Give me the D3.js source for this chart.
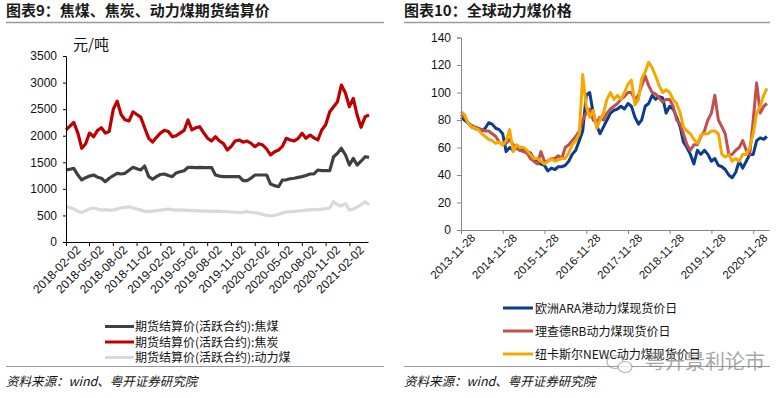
<!DOCTYPE html>
<html>
<head>
<meta charset="utf-8">
<script src="https://d3js.org/d3.v7.min.js"></script>
<style>
  body { margin: 0; background: #fff; }
  svg { display: block; }
  text { font-family: "Liberation Sans", Arial, "Noto Sans CJK SC", sans-serif; }
  .cn { font-family: "Noto Sans CJK SC", sans-serif; }
</style>
</head>
<body>
<svg id="chart" width="783" height="398"></svg>
<script>
// ---- left chart data: semi-monthly settlement prices (yuan/ton) ----
const leftStart = new Date(2018, 1, 2);
const leftTicks = ["2018-02-02","2018-05-02","2018-08-02","2018-11-02","2019-02-02","2019-05-02",
  "2019-08-02","2019-11-02","2020-02-02","2020-05-02","2020-08-02","2020-11-02","2021-02-02"];
const cokingCoal = [1355,1370,1385,1260,1167,1210,1240,1261,1220,1198,1135,1200,1250,1292,1280,1292,
  1350,1405,1380,1355,1430,1229,1180,1230,1270,1280,1250,1229,1300,1323,1342,1405,1405,1400,1405,1400,
  1400,1400,1261,1240,1229,1229,1229,1229,1229,1154,1154,1200,1261,1261,1261,1261,1091,1060,1041,1167,
  1170,1190,1200,1217,1230,1250,1280,1280,1355,1342,1342,1342,1605,1669,1763,1637,1449,1574,1449,1520,
  1605,1593];
const coke = [2108,2180,2250,2050,1763,1850,2050,1980,2100,2150,2050,2080,2500,2650,2400,2300,2280,2450,
  2400,2350,2150,1950,1880,1970,2050,2100,2080,1980,2000,2050,2100,2296,2108,2150,2170,2050,1951,1900,
  1982,1900,1850,1731,1800,1900,1919,1880,1900,1860,1794,1850,1825,1750,1637,1700,1731,1800,1951,1920,
  1900,1950,2045,1951,2013,1960,1920,2108,2202,2452,2546,2640,2954,2798,2546,2703,2390,2158,2358,2390];
const thermalFut = [665,650,620,580,552,590,620,640,620,600,610,600,600,620,640,650,665,640,620,600,580,
  570,580,590,600,610,620,610,600,605,600,595,590,590,585,580,580,575,580,575,570,570,565,560,555,560,
  570,560,550,540,520,500,490,500,520,545,565,570,575,585,590,600,605,609,610,620,627,640,759,700,680,
  721,600,620,660,700,759,700];
const leftNames = ["期货结算价(活跃合约):焦煤", "期货结算价(活跃合约):焦炭", "期货结算价(活跃合约):动力煤"];

// ---- right chart data: monthly spot prices (USD/t) ----
const rightStart = new Date(2013, 10, 28);
const rightTicks = ["2013-11-28","2014-11-28","2015-11-28","2016-11-28","2017-11-28","2018-11-28",
  "2019-11-28","2020-11-28"];
const ara = [82,80,78,75,74,73,72,74,78,77,74,73,70,57,60,58,60,58,58,57,56,52,50,48,47,43,45,44,46,46,
  47,50,55,58,65,72,98,100,85,76,70,75,80,85,87,88,90,88,92,90,82,77,80,90,92,98,95,97,96,85,90,88,82,
  75,64,60,55,48,58,55,58,55,50,52,47,46,44,40,38,42,50,45,50,55,55,65,67,66,68];
const rb = [84,82,78,76,75,74,73,72,72,70,68,64,62,63,66,62,60,58,57,56,52,50,48,57,50,50,52,52,54,52,
  60,62,65,68,72,80,85,88,80,78,82,80,85,88,90,92,95,97,100,100,95,98,105,112,105,100,99,96,93,95,95,
  90,80,77,70,62,58,62,62,68,72,80,85,98,80,75,70,55,55,58,60,65,58,55,80,107,85,90,92];
const newc = [86,84,78,75,74,73,70,68,66,65,63,64,62,65,73,57,62,60,60,58,55,52,52,50,48,50,52,50,51,52,
  52,56,62,65,70,113,90,82,87,74,80,85,95,100,95,98,95,100,106,109,91,95,110,115,122,118,112,105,100,
  102,100,95,92,85,75,72,70,66,63,69,70,70,72,72,70,55,53,55,50,52,50,55,55,60,70,85,90,98,103];
const rightNames = ["欧洲ARA港动力煤现货价日", "理查德RB动力煤现货价日", "纽卡斯尔NEWC动力煤现货价日"];

const parse = d3.timeParse("%Y-%m-%d");
const svg = d3.select("#chart");

// titles & rules
function header(x0, x1, title) {
  svg.append("text").attr("class", "cn").attr("x", x0).attr("y", 16)
    .attr("font-size", 15).attr("font-weight", "bold").attr("fill", "#1a1a1a").text(title);
  svg.append("line").attr("x1", x0).attr("x2", x1).attr("y1", 22.5).attr("y2", 22.5)
    .attr("stroke", "#9a9a9a").attr("stroke-width", 1.5);
  svg.append("line").attr("x1", x0).attr("x2", x1).attr("y1", 366.5).attr("y2", 366.5)
    .attr("stroke", "#9a9a9a").attr("stroke-width", 1.2);
  svg.append("text").attr("class", "cn").attr("x", x0).attr("y", 386)
    .attr("font-size", 12.5).attr("font-style", "italic").attr("fill", "#111")
    .text("资料来源：wind、粤开证券研究院");
}
header(6, 384, "图表9：焦煤、焦炭、动力煤期货结算价");
header(404, 770, "图表10：全球动力煤价格");

// ---------- left chart ----------
{
  const x = d3.scaleTime().domain([leftStart, new Date(2021, 3, 15)]).range([66, 368]);
  const y = d3.scaleLinear().domain([0, 3500]).range([242, 56]);
  const dates = cokingCoal.map((_, i) => d3.timeDay.offset(leftStart, Math.round(i * 365.25 / 24)));
  const colors = ["#404040", "#c00000", "#d9d9d9"];
  const series = [cokingCoal, coke, thermalFut];

  const line = d3.line().x((d, i) => x(dates[i])).y(d => y(d));
  // draw light first so dark series on top
  [2, 0, 1].forEach(k => {
    svg.append("path").datum(series[k]).attr("d", line).attr("fill", "none")
      .attr("stroke", colors[k]).attr("stroke-width", 3.2).attr("stroke-linejoin", "round");
  });

  const ya = svg.append("g").attr("transform", "translate(66,0)")
    .call(d3.axisLeft(y).tickValues(d3.range(0, 3501, 500)).tickSize(3).tickPadding(6).tickFormat(d3.format("d")));
  ya.selectAll("path,line").attr("stroke", "#000");
  ya.selectAll("text").attr("font-size", 12).attr("fill", "#111").attr("font-family", "Liberation Sans, Arial");

  const xa = svg.append("g").attr("transform", "translate(0,242)")
    .call(d3.axisBottom(x).tickValues(leftTicks.map(parse)).tickSize(4).tickSizeOuter(0)
      .tickFormat(d3.timeFormat("%Y-%m-%d")));
  xa.selectAll("path,line").attr("stroke", "#000");
  xa.selectAll("text").attr("font-size", 12).attr("fill", "#111").attr("font-family", "Liberation Sans, Arial")
    .attr("text-anchor", "end").attr("transform", "translate(4,-2) rotate(-45)").attr("dy", "0.7em");

  svg.append("text").attr("class", "cn").attr("x", 73).attr("y", 50).attr("font-size", 15)
    .attr("fill", "#111").text("元/吨");

  leftNames.forEach((n, i) => {
    const yy = 326.5 + i * 15.5;
    svg.append("line").attr("x1", 105).attr("x2", 134).attr("y1", yy).attr("y2", yy)
      .attr("stroke", colors[i]).attr("stroke-width", 3);
    svg.append("text").attr("class", "cn").attr("x", 135).attr("y", yy + 4.5).attr("font-size", 12)
      .attr("fill", "#111").text(n);
  });
}

// ---------- right chart ----------
{
  const x = d3.scaleTime().domain([rightStart, new Date(2021, 3, 15)]).range([461, 769]);
  const y = d3.scaleLinear().domain([0, 140]).range([230, 37.5]);
  const dates = ara.map((_, i) => d3.timeMonth.offset(rightStart, i));
  const colors = ["#0b3d8c", "#c0504d", "#f5a800"];
  const series = [ara, rb, newc];
  const line = d3.line().x((d, i) => x(dates[i])).y(d => y(d));
  series.forEach((s, k) => {
    svg.append("path").datum(s).attr("d", line).attr("fill", "none")
      .attr("stroke", colors[k]).attr("stroke-width", 3).attr("stroke-linejoin", "round");
  });

  const ya = svg.append("g").attr("transform", "translate(461,0)")
    .call(d3.axisLeft(y).tickValues(d3.range(0, 141, 20)).tickSize(4).tickSizeOuter(4).tickPadding(6));
  ya.selectAll("path,line").attr("stroke", "#868686");
  ya.selectAll("text").attr("font-size", 12).attr("fill", "#111").attr("font-family", "Liberation Sans, Arial");

  const xa = svg.append("g").attr("transform", "translate(0,230)")
    .call(d3.axisBottom(x).tickValues(rightTicks.map(parse)).tickSize(4).tickSizeOuter(0)
      .tickFormat(d3.timeFormat("%Y-%m-%d")));
  xa.selectAll("path,line").attr("stroke", "#868686");
  xa.selectAll("text").attr("font-size", 11.5).attr("fill", "#111").attr("font-family", "Liberation Sans, Arial")
    .attr("text-anchor", "end").attr("transform", "translate(4,-2) rotate(-45)").attr("dy", "0.7em");

  rightNames.forEach((n, i) => {
    const yy = 308 + i * 23;
    svg.append("line").attr("x1", 503).attr("x2", 533).attr("y1", yy).attr("y2", yy)
      .attr("stroke", colors[i]).attr("stroke-width", 3);
    svg.append("text").attr("class", "cn").attr("x", 535).attr("y", yy + 4.5).attr("font-size", 12)
      .attr("fill", "#111").text(n);
  });

  // watermark
  const wm = svg.append("g").attr("opacity", 0.75);
  wm.append("ellipse").attr("cx", 615).attr("cy", 362).attr("rx", 8).attr("ry", 6.5)
    .attr("fill", "none").attr("stroke", "#9a9a9a").attr("stroke-width", 1.2);
  wm.append("ellipse").attr("cx", 625).attr("cy", 367).attr("rx", 7).attr("ry", 5.5)
    .attr("fill", "#fff").attr("stroke", "#9a9a9a").attr("stroke-width", 1.2);
  wm.append("text").attr("class", "cn").attr("x", 645).attr("y", 369).attr("font-size", 20)
    .attr("fill", "#8a8a8a").text("粤开景利论市");
}
</script>
</body>
</html>
